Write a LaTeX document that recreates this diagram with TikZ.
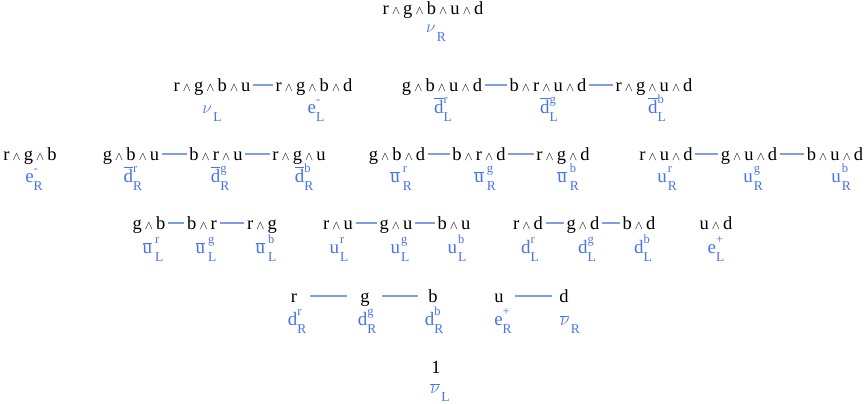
\documentclass[tikz,border=0pt]{standalone}
\usepackage{fontspec}
\setmainfont{Liberation Serif}
\definecolor{lblue}{RGB}{70,115,238}
\definecolor{cblue}{RGB}{125,158,226}
\newcommand{\wg}{\hspace{0.17em}\scalebox{0.7}{$\wedge$}\hspace{0.17em}}
\newcommand{\lab}[4][0pt]{\mbox{#2\hspace{#1}\rlap{\raisebox{9.5pt}{\fontsize{12.5}{12}\selectfont #3}}\raisebox{-8.5pt}{\fontsize{13.5}{12}\selectfont #4}}}
\newcommand{\bd}{$\overline{\mbox{d}}$}
\newcommand{\bu}{$\overline{\mbox{u}}$}
\tikzset{
  blk/.style={anchor=base, inner sep=2.5pt, font=\fontsize{18.5}{21}\selectfont, text=black},
  lbl/.style={anchor=base, inner sep=0pt, font=\fontsize{19}{21}\selectfont, text=lblue},
  conn/.style={draw=cblue, line width=1.5pt},
}
\newcommand{\cn}[3][]{\draw[conn,#1] ([yshift=6pt]#2.base east) -- ([yshift=6pt]#3.base west);}
\begin{document}
\begin{tikzpicture}[x=1pt,y=-1pt]
\useasboundingbox (0,0) rectangle (867,404);
% Row 1
\node[blk] (t1) at (433,15) {r\wg g\wg b\wg u\wg d};
\node[lbl] (t1l) at (436,33) {\lab[1.5pt]{$\nu$}{}{R}};
% Row 2
\node[blk] (a1) at (212,91) {r\wg g\wg b\wg u};
\node[blk] (a2) at (314,91) {r\wg g\wg b\wg d};
\node[blk] (a3) at (442,91) {g\wg b\wg u\wg d};
\node[blk] (a4) at (548,91) {b\wg r\wg u\wg d};
\node[blk] (a5) at (654,91) {r\wg g\wg u\wg d};
\node[lbl] (a1l) at (212,113) {\lab[1.5pt]{$\nu$}{}{L}};
\node[lbl] (a2l) at (316,113) {\lab{e}{-}{L}};
\node[lbl] (a3l) at (443,113) {\lab{\bd}{r}{L}};
\node[lbl] (a4l) at (549,113) {\lab{\bd}{g}{L}};
\node[lbl] (a5l) at (657,113) {\lab{\bd}{b}{L}};
\cn{a1}{a2} \cn{a3}{a4} \cn{a4}{a5}
% Row 3
\node[blk] (b0) at (30,160) {r\wg g\wg b};
\node[blk] (b1) at (131,160) {g\wg b\wg u};
\node[blk] (b2) at (216,160) {b\wg r\wg u};
\node[blk] (b3) at (299,160) {r\wg g\wg u};
\node[blk] (b4) at (397,160) {g\wg b\wg d};
\node[blk] (b5) at (479,160) {b\wg r\wg d};
\node[blk] (b6) at (563,160) {r\wg g\wg d};
\node[blk] (b7) at (666,160) {r\wg u\wg d};
\node[blk] (b8) at (749,160) {g\wg u\wg d};
\node[blk] (b9) at (835,160) {b\wg u\wg d};
\node[lbl] (b0l) at (34,182) {\lab{e}{-}{R}};
\node[lbl] (b1l) at (133,182) {\lab{\bd}{r}{R}};
\node[lbl] (b2l) at (220,182) {\lab{\bd}{g}{R}};
\node[lbl] (b3l) at (304,182) {\lab{\bd}{b}{R}};
\node[lbl] (b4l) at (401,182) {\lab[3pt]{\bu}{r}{R}};
\node[lbl] (b5l) at (485,182) {\lab[3pt]{\bu}{g}{R}};
\node[lbl] (b6l) at (568,182) {\lab[3pt]{\bu}{b}{R}};
\node[lbl] (b7l) at (667,182) {\lab[1pt]{u}{r}{R}};
\node[lbl] (b8l) at (753,182) {\lab[1pt]{u}{g}{R}};
\node[lbl] (b9l) at (841,182) {\lab[1pt]{u}{b}{R}};
\cn{b1}{b2} \cn{b2}{b3} \cn{b4}{b5} \cn{b5}{b6} \cn{b7}{b8} \cn{b8}{b9}
% Row 4
\node[blk] (c1) at (149,229) {g\wg b};
\node[blk] (c2) at (202,229) {b\wg r};
\node[blk] (c3) at (262,229) {r\wg g};
\node[blk] (c4) at (338,229) {r\wg u};
\node[blk] (c5) at (396,229) {g\wg u};
\node[blk] (c6) at (454,229) {b\wg u};
\node[blk] (c7) at (528,229) {r\wg d};
\node[blk] (c8) at (583,229) {g\wg d};
\node[blk] (c9) at (639,229) {b\wg d};
\node[blk] (c10) at (716,229) {u\wg d};
\node[lbl] (c1l) at (153,253) {\lab[3pt]{\bu}{r}{L}};
\node[lbl] (c2l) at (206,253) {\lab[3pt]{\bu}{g}{L}};
\node[lbl] (c3l) at (266,253) {\lab[3pt]{\bu}{b}{L}};
\node[lbl] (c4l) at (339,253) {\lab[1pt]{u}{r}{L}};
\node[lbl] (c5l) at (400,253) {\lab[1pt]{u}{g}{L}};
\node[lbl] (c6l) at (457,253) {\lab[1pt]{u}{b}{L}};
\node[lbl] (c7l) at (530,253) {\lab{d}{r}{L}};
\node[lbl] (c8l) at (587,253) {\lab{d}{g}{L}};
\node[lbl] (c9l) at (643,253) {\lab{d}{b}{L}};
\node[lbl] (c10l) at (716,253) {\lab{e}{+}{L}};
\cn{c1}{c2} \cn{c2}{c3} \cn{c4}{c5} \cn{c5}{c6} \cn{c7}{c8} \cn{c8}{c9}
% Row 5
\node[blk] (d1) at (294,302) {r};
\node[blk] (d2) at (365,302) {g};
\node[blk] (d3) at (433,302) {b};
\node[blk] (d4) at (499,302) {u};
\node[blk] (d5) at (564,302) {d};
\node[lbl] (d1l) at (297,325) {\lab{d}{r}{R}};
\node[lbl] (d2l) at (367,325) {\lab{d}{g}{R}};
\node[lbl] (d3l) at (434,325) {\lab{d}{b}{R}};
\node[lbl] (d4l) at (503,325) {\lab{e}{+}{R}};
\node[lbl] (d5l) at (570,325) {\lab[1.5pt]{$\overline{\nu}$}{}{R}};
\cn[shorten <=10pt, shorten >=11pt]{d1}{d2}
\cn[shorten <=10pt, shorten >=8pt]{d2}{d3}
\cn[shorten <=9pt, shorten >=5pt]{d4}{d5}
% Row 6
\node[blk] (e1) at (436,373) {1};
\node[lbl] (e1l) at (440,393) {\lab[1.5pt]{$\overline{\nu}$}{}{L}};
\end{tikzpicture}
\end{document}
